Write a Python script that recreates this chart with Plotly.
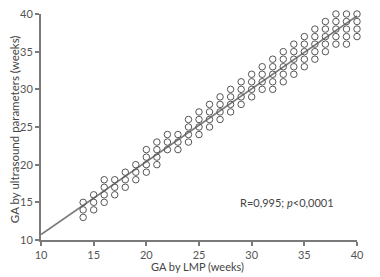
import numpy as np
import plotly.graph_objects as go

# GA by LMP (weeks) -> list of GA by ultrasound values observed at that week
lmp_weeks = [14, 15, 16, 17, 18, 19, 20, 21, 22, 23, 24, 25, 26, 27,
             28, 29, 30, 31, 32, 33, 34, 35, 36, 37, 38, 39, 40]
us_values = [
    [13, 14, 15],
    [14, 15, 16],
    [15, 16, 17, 18],
    [16, 17, 18],
    [17, 18, 19],
    [18, 19, 20],
    [19, 20, 21, 22],
    [20, 21, 22, 23],
    [22, 23, 24],
    [22, 23, 24],
    [23, 24, 25, 26],
    [24, 25, 26, 27],
    [25, 26, 27, 28],
    [26, 27, 28, 29],
    [27, 28, 29, 30],
    [28, 29, 30, 31],
    [29, 30, 31, 32],
    [30, 31, 32, 33],
    [30, 31, 32, 33, 34],
    [31, 32, 33, 34, 35],
    [32, 33, 34, 35, 36],
    [33, 34, 35, 36, 37],
    [34, 35, 36, 37, 38],
    [35, 36, 37, 38, 39],
    [36, 37, 38, 39, 40],
    [36, 37, 38, 39, 40],
    [37, 38, 39, 40],
]
x_ticks = [10, 15, 20, 25, 30, 35, 40]
y_ticks = [10, 15, 20, 25, 30, 35, 40]
x_title = "GA by LMP (weeks)"
y_title = "GA by ultrasound parameters (weeks)"
annotation_text = "R=0,995; <i>p</i><0,0001"

xs = [w for w, vals in zip(lmp_weeks, us_values) for _ in vals]
ys = [v for vals in us_values for v in vals]

slope, intercept = np.polyfit(xs, ys, 1)
line_x = [10, 40]
line_y = [intercept + slope * v for v in line_x]

fig = go.Figure()
fig.add_trace(go.Scatter(
    x=line_x, y=line_y, mode="lines",
    line=dict(color="#7a7a7a", width=1.6),
    hoverinfo="skip", showlegend=False, cliponaxis=False,
))
fig.add_trace(go.Scatter(
    x=xs, y=ys, mode="markers",
    marker=dict(symbol="circle-open", size=6.5, color="#555555",
                line=dict(width=1, color="#555555")),
    showlegend=False, cliponaxis=False,
))

font_family = "Lato, 'Open Sans', sans-serif"
axis_common = dict(
    showgrid=False, zeroline=False, automargin=False,
    showline=True, linecolor="#7a7a7a", linewidth=2,
    ticks="outside", ticklen=4, tickwidth=1.5, tickcolor="#7a7a7a",
    tickfont=dict(family=font_family, size=11, color="#555555"),
)
fig.update_xaxes(range=[10, 40], tickvals=x_ticks,
                 ticktext=[str(t) for t in x_ticks], **axis_common)
fig.update_yaxes(range=[10, 40], tickvals=y_ticks,
                 ticktext=[str(t) for t in y_ticks], **axis_common)

fig.add_annotation(
    x=0.495, y=-0.118, xref="paper", yref="paper", text=x_title,
    showarrow=False, xanchor="center", yanchor="middle",
    font=dict(family=font_family, size=11, color="#444444"),
)
fig.add_annotation(
    x=-0.085, y=0.491, xref="paper", yref="paper", text=y_title,
    textangle=-90, showarrow=False, xanchor="center", yanchor="middle",
    font=dict(family=font_family, size=11.5, color="#444444"),
)
fig.add_annotation(
    x=28.7, y=15, xref="x", yref="y", text=annotation_text,
    showarrow=False, xanchor="left", yanchor="middle",
    font=dict(family=font_family, size=11, color="#444444"),
)
fig.update_layout(
    width=380, height=277,
    margin=dict(l=41, r=23, t=14, b=37),
    paper_bgcolor="white", plot_bgcolor="white",
)
fig.write_html(
    "out.html",
    config={"displayModeBar": False},
    post_script="document.body.style.margin='0';document.body.style.overflow='hidden';",
)
